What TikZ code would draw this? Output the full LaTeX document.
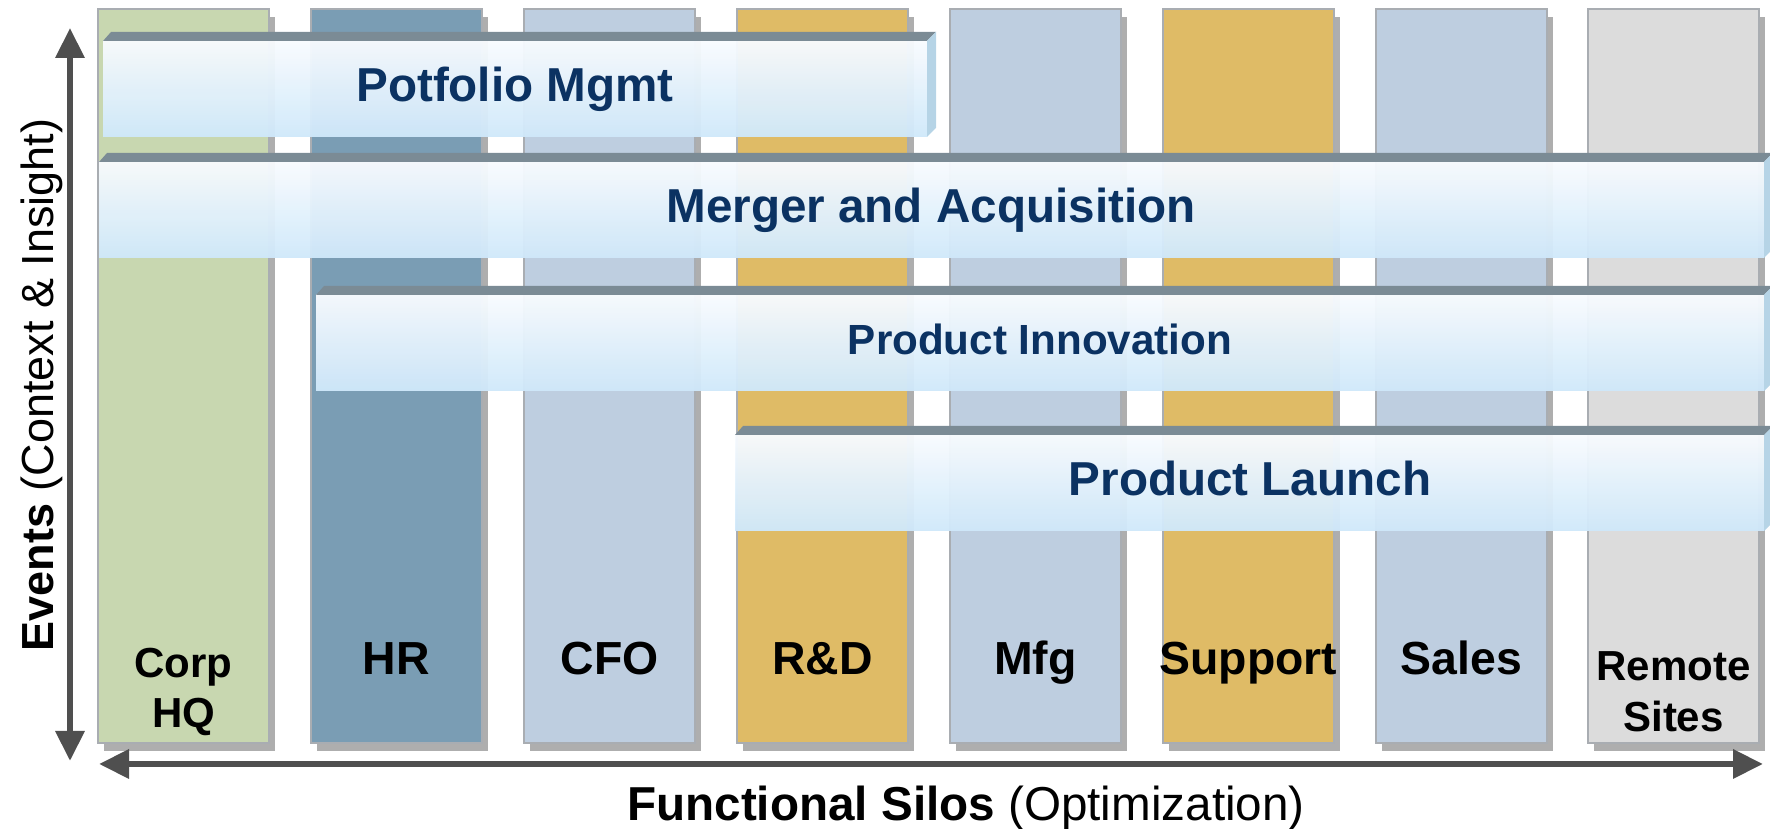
\documentclass[tikz,border=0pt]{standalone}
\usepackage{fontspec}
\setmainfont{Liberation Sans}
\usetikzlibrary{arrows.meta,positioning}

\definecolor{hqgreen}{HTML}{C8D7B0}
\definecolor{hrblue}{HTML}{7A9DB4}
\definecolor{paleblue}{HTML}{BECEE0}
\definecolor{rdgold}{HTML}{DFBB66}
\definecolor{sitegrey}{HTML}{DCDCDC}
\definecolor{silorim}{HTML}{A9ADB2}
\definecolor{silodrop}{HTML}{AEAEAE}
\definecolor{slabroof}{HTML}{7B8B95}
\definecolor{slabend}{HTML}{B6D4E6}
\definecolor{slabhi}{HTML}{F8FBFE}
\definecolor{slablo}{HTML}{CFE8FA}
\definecolor{eventnavy}{HTML}{0B3262}
\definecolor{axisgrey}{HTML}{4F4F4F}

\tikzset{
  silo/.style={draw=silorim, line width=0.15mm},
  silodrop/.style={fill=silodrop},
  slabroof/.style={fill=slabroof},
  slabend/.style={fill=slabend},
  slabfront/.style={top color=slabhi, bottom color=slablo, fill opacity=0.96},
  eventtext/.style={text=eventnavy, anchor=base, inner sep=0pt,
    font=\bfseries\fontsize{13.55}{16}\selectfont},
  silotext/.style={anchor=base, inner sep=0pt,
    font=\bfseries\fontsize{13.2}{16}\selectfont},
  silotwo/.style={anchor=center, inner sep=0pt, align=center,
    font=\bfseries\fontsize{11.95}{14.5}\selectfont},
  axis/.style={draw=axisgrey, line width=0.65mm,
    {Triangle[length=3mm,width=2.8mm]}-{Triangle[length=3mm,width=2.8mm]}}
}

\begin{document}
\begin{tikzpicture}[x=0.1mm,y=-0.1mm]
  \clip (0,0) rectangle (1770,829);

  % silos: drop shadow first, then the column
  \fill [silodrop] (104,17) rectangle (275,751);
  \fill [silodrop] (317,17) rectangle (488,751);
  \fill [silodrop] (530,17) rectangle (701,751);
  \fill [silodrop] (743,17) rectangle (914,751);
  \fill [silodrop] (956,17) rectangle (1127,751);
  \fill [silodrop] (1169,17) rectangle (1340,751);
  \fill [silodrop] (1382,17) rectangle (1553,751);
  \fill [silodrop] (1594,17) rectangle (1765,751);

  \draw [silo, fill=hqgreen] (98,9) rectangle (269,743);
  \draw [silo, fill=hrblue] (311,9) rectangle (482,743);
  \draw [silo, fill=paleblue] (524,9) rectangle (695,743);
  \draw [silo, fill=rdgold] (737,9) rectangle (908,743);
  \draw [silo, fill=paleblue] (950,9) rectangle (1121,743);
  \draw [silo, fill=rdgold] (1163,9) rectangle (1334,743);
  \draw [silo, fill=paleblue] (1376,9) rectangle (1547,743);
  \draw [silo, fill=sitegrey] (1588,9) rectangle (1759,743);

  \node [silotwo] (corphq) at (183.5,692) {Corp\\HQ};
  \node [silotext] (hr) at (396.5,675) {HR};
  \node [silotext] (cfo) at (609.5,675) {CFO};
  \node [silotext] (rnd) at (822.5,675) {R\&D};
  \node [silotext] (mfg) at (1035.5,675) {Mfg};
  \node [silotext] (support) at (1248.5,675) {Support};
  \node [silotext] (sales) at (1461.5,675) {Sales};
  \node [silotwo] (remote) at (1673.5,692) {Remote\\Sites};

  % event slabs
  \shade [slabfront] (103,41) rectangle (927,137);
  \fill [slabroof] (103,41) -- (111,32) -- (936,32) -- (927,41) -- cycle;
  \fill [slabend] (927,41) -- (936,32) -- (936,128) -- (927,137) -- cycle;

  \shade [slabfront] (99,162) rectangle (1764,258);
  \fill [slabroof] (99,162) -- (107,153) -- (1773,153) -- (1764,162) -- cycle;
  \fill [slabend] (1764,162) -- (1773,153) -- (1773,249) -- (1764,258) -- cycle;

  \shade [slabfront] (316,295) rectangle (1764,391);
  \fill [slabroof] (316,295) -- (324,286) -- (1773,286) -- (1764,295) -- cycle;
  \fill [slabend] (1764,295) -- (1773,286) -- (1773,382) -- (1764,391) -- cycle;

  \shade [slabfront] (735,435) rectangle (1764,531);
  \fill [slabroof] (735,435) -- (743,426) -- (1773,426) -- (1764,435) -- cycle;
  \fill [slabend] (1764,435) -- (1773,426) -- (1773,522) -- (1764,531) -- cycle;

  \node [eventtext] (portfolio) at (515,102) {Potfolio Mgmt};
  \node [eventtext] (merger) at (931,223) {Merger and Acquisition};
  \node [eventtext, font=\bfseries\fontsize{12}{14}\selectfont] (innovation) at (1040,355) {Product Innovation};
  \node [eventtext] (launch) at (1250,496) {Product Launch};

  % axes
  \coordinate (ytop) at (70,28);
  \coordinate (ybot) at (70,761);
  \coordinate (xleft) at (99,764);
  \coordinate (xright) at (1763,764);
  \draw [axis] (ybot) -- (ytop);
  \draw [axis] (xleft) -- (xright);

  \node [anchor=base, inner sep=0pt, font=\fontsize{13.55}{16}\selectfont] (silos) at (966,821) {\textbf{Functional Silos} (Optimization)};
  \node [anchor=base, inner sep=0pt, rotate=90, font=\fontsize{12.8}{15}\selectfont] (events) at (53,385) {\textbf{Events} (Context \& Insight)};
\end{tikzpicture}
\end{document}
